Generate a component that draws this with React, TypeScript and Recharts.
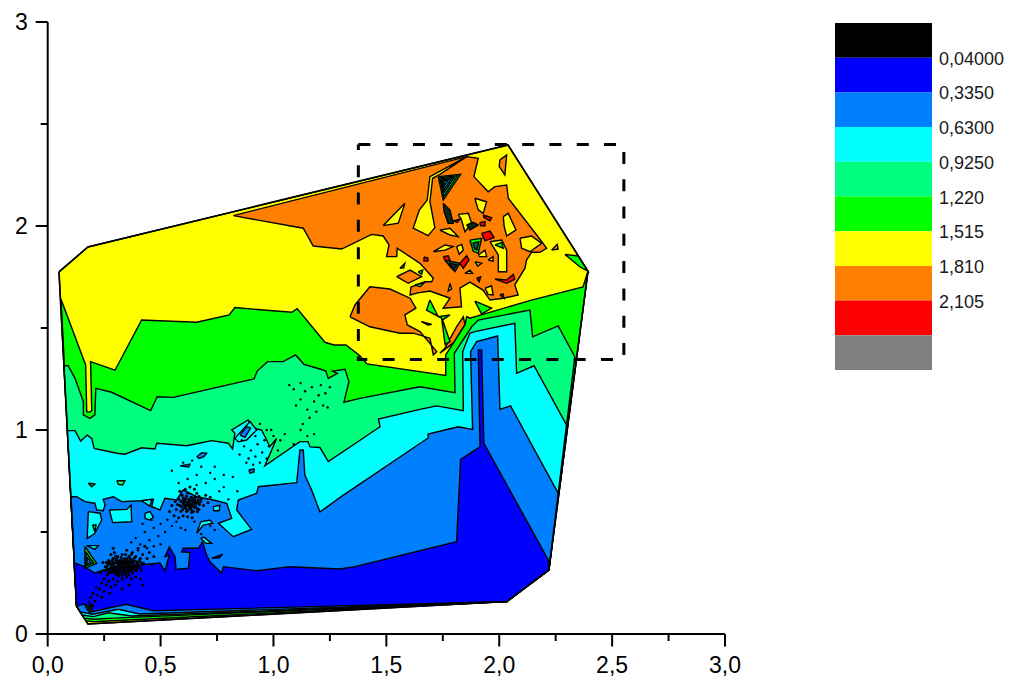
import React from "react";
import { ScatterChart, Scatter, XAxis, YAxis, BarChart, Bar, Cell } from "recharts";

type P = [number, number];

const xTicks = [0, 0.25, 0.5, 0.75, 1, 1.25, 1.5, 1.75, 2, 2.25, 2.5, 2.75, 3];
const yTicks = [0, 0.5, 1, 1.5, 2, 2.5, 3];
const legendLabels = ["0,04000", "0,3350", "0,6300", "0,9250", "1,220", "1,515", "1,810", "2,105"];
const legendTicks = [1, 2, 3, 4, 5, 6, 7, 8];
const legendKeys = ["s0", "s1", "s2", "s3", "s4", "s5", "s6", "s7", "s8", "s9"];

const BLACK = "#000000", DARK = "#0000ff", MID = "#007fff", CYAN = "#00ffff", SPRING = "#00ff7f";
const GREEN = "#00ff00", YELLOW = "#ffff00", ORANGE = "#ff7f00", RED = "#ff0000", GREY = "#808080";
const legendColors = [BLACK, DARK, MID, CYAN, SPRING, GREEN, YELLOW, ORANGE, RED, GREY];

const hull: P[] = [[.05,1.775],[.178,1.897],[2.039,2.397],[2.393,1.779],[2.22,.314],[2.034,.159],[.178,.049],[.128,.137]];

const orangeMain: P[] = [[.822,2.051],[1.856,2.34],[1.907,2.332],[1.888,2.242],[1.951,2.168],[1.981,2.193],[2.033,2.201],[2.04,2.136],[2.166,1.956],[2.21,1.891],[2.18,1.871],[2.143,1.871],[2.121,1.833],[2.114,1.793],[2.069,1.711],[2.084,1.662],[2.018,1.646],[1.959,1.637],[1.928,1.686],[1.87,1.725],[1.826,1.695],[1.833,1.604],[1.752,1.597],[1.782,1.646],[1.693,1.681],[1.64,1.672],[1.605,1.662],[1.609,1.701],[1.671,1.727],[1.701,1.727],[1.708,1.744],[1.649,1.817],[1.548,1.891],[1.546,1.85],[1.501,1.85],[1.512,1.907],[1.486,1.951],[1.435,1.959],[1.302,1.887],[1.176,1.902],[1.132,1.989]];
const orangeLower: P[] = [[1.339,1.555],[1.361,1.613],[1.427,1.702],[1.516,1.691],[1.605,1.646],[1.631,1.597],[1.582,1.564],[1.593,1.515],[1.649,1.482],[1.723,1.384],[1.708,1.368],[1.693,1.45],[1.619,1.475],[1.56,1.474],[1.427,1.506]];
const orangeStrip: P[] = [[1.759,1.401],[1.811,1.506],[1.841,1.555],[1.848,1.515],[1.804,1.433],[1.737,1.376]];
const orangeTop: P[] = [[2.003,2.324],[2.033,2.348],[2.025,2.25],[2.0,2.291]];
const orangeRight: P[] = [[2.232,1.882],[2.257,1.91],[2.261,1.887]];
const orangeIsland: P[] = [[1.546,1.752],[1.605,1.784],[1.656,1.752],[1.597,1.719]];
const orangeThin: P[] = [[1.656,1.531],[1.701,1.518],[1.684,1.515]];

const yellowStrand: P[] = [[1.856,2.34],[1.693,2.242],[1.681,2.127],[1.646,2.078],[1.619,1.989],[1.685,1.953],[1.715,1.992],[1.693,2.119],[1.705,2.234],[1.737,2.253]];
const yellowA: P[] = [[1.486,2.002],[1.582,2.111],[1.553,2.014]];
const yellowB: P[] = [[1.892,2.136],[1.944,2.119],[1.929,2.062],[1.907,2.079]];
const yellowC: P[] = [[1.818,2.057],[1.863,2.062],[1.878,2.013],[1.848,1.972],[1.833,2.029]];
const yellowD: P[] = [[2.018,2.046],[2.04,2.062],[2.074,1.98],[2.033,1.951],[2.022,1.997]];
const yellowE: P[] = [[2.092,1.94],[2.143,1.951],[2.188,1.915],[2.136,1.874],[2.099,1.891]];
const yellowF: P[] = [[1.959,1.923],[2.011,1.931],[2.033,1.882],[2.033,1.776],[1.996,1.776],[1.996,1.858]];
const yellowG: P[] = [[1.737,1.98],[1.782,1.989],[1.818,1.948],[1.782,1.956]];
const yellowH: P[] = [[1.708,1.874],[1.76,1.907],[1.796,1.899],[1.76,1.882]];
const yellowI: P[] = [[1.811,1.899],[1.834,1.91],[1.841,1.882],[1.823,1.861]];
const yellowJ: P[] = [[1.892,1.825],[1.922,1.817],[1.905,1.804]];
const yellowK: P[] = [[1.951,1.833],[1.973,1.85],[1.973,1.828]];
const yellowL: P[] = [[1.848,1.768],[1.87,1.784],[1.882,1.768]];
const yellowM: P[] = [[1.782,1.719],[1.789,1.691],[1.774,1.681]];
const yellowN: P[] = [[1.907,1.858],[1.937,1.882],[1.944,1.85],[1.914,1.85]];
const yellowO: P[] = [[1.937,1.695],[1.966,1.707],[1.973,1.662],[1.951,1.665]];

const redA: P[] = [[1.929,2.054],[1.966,2.041],[1.959,2.026],[1.932,2.041]];
const redB: P[] = [[1.922,1.964],[1.959,1.975],[1.977,1.943],[1.937,1.928]];
const redC: P[] = [[1.752,1.85],[1.774,1.854],[1.782,1.833],[1.764,1.825]];
const redD: P[] = [[1.826,1.817],[1.856,1.854],[1.866,1.833],[1.841,1.793]];
const redE: P[] = [[1.981,1.74],[2.033,1.735],[2.062,1.763],[2.069,1.74],[2.033,1.719]];
const redF: P[] = [[1.9,1.744],[1.918,1.751],[1.911,1.727]];
const redG: P[] = [[1.667,1.848],[1.684,1.843],[1.684,1.828],[1.667,1.828]];
const redH: P[] = [[1.796,2.025],[1.826,2.034],[1.814,2.018]];
const redI: P[] = [[1.914,2.018],[1.937,2.021],[1.937,2.001],[1.918,2.001]];
const redJ: P[] = [[2.003,1.662],[2.017,1.667],[2.021,1.646]];

const greenA: P[] = [[1.693,1.637],[1.73,1.555],[1.782,1.564],[1.749,1.539],[1.782,1.433],[1.76,1.42],[1.745,1.548],[1.678,1.588]];
const greenB: P[] = [[1.892,1.632],[1.966,1.597],[1.922,1.568]];
const greenC: P[] = [[1.56,1.793],[1.582,1.817],[1.577,1.795]];
const greenD: P[] = [[1.641,1.776],[1.661,1.784],[1.656,1.763]];
const greenE: P[] = [[1.627,1.711],[1.671,1.724],[1.649,1.702]];
const greenF: P[] = [[1.981,1.907],[2.011,1.92],[2.018,1.891]];
const greenCorner: P[] = [[2.291,1.861],[2.349,1.853],[2.393,1.779],[2.358,1.799]];

const fanTop1: P[] = [[1.73,2.242],[1.829,2.253],[1.752,2.127]];
const fanTop2: P[] = [[1.736,2.237],[1.815,2.246],[1.754,2.145]];
const fanTop3: P[] = [[1.742,2.232],[1.801,2.239],[1.755,2.163]];
const fanTop4: P[] = [[1.748,2.227],[1.788,2.231],[1.757,2.181]];
const fanTop5: P[] = [[1.754,2.222],[1.774,2.224],[1.758,2.199]];
const darkDiamond: P[] = [[1.752,2.111],[1.782,2.078],[1.796,2.013],[1.774,2.013],[1.756,2.07]];
const darkWedge: P[] = [[1.856,2.005],[1.885,2.018],[1.907,2.005],[1.87,1.98]];
const fanMid1: P[] = [[1.87,1.931],[1.922,1.94],[1.907,1.866],[1.885,1.876]];
const fanMid2: P[] = [[1.883,1.917],[1.91,1.922],[1.901,1.882],[1.892,1.887]];
const fanLow1: P[] = [[1.76,1.833],[1.826,1.817],[1.804,1.776],[1.782,1.801]];
const fanLow2: P[] = [[1.777,1.819],[1.813,1.809],[1.799,1.789]];

const bandGreen: P[] = [[.059,1.641],[.168,1.319],[.173,1.09],[.184,1.087],[.195,1.095],[.19,1.335],[.298,1.293],[.416,1.539],[.66,1.528],[.804,1.564],[.829,1.6],[1.081,1.577],[1.105,1.595],[1.228,1.43],[1.268,1.417],[1.321,1.417],[1.383,1.364],[1.414,1.324],[1.763,1.267],[1.763,1.368],[1.848,1.515],[1.856,1.556],[1.87,1.548],[2.143,1.637],[2.371,1.701],[2.393,1.779],[2.22,.314],[2.034,.159],[.202,.06],[.17,.064],[.128,.137]];
const bandSpring: P[] = [[.072,1.315],[.091,1.315],[.121,1.253],[.158,1.139],[.158,1.074],[.187,1.057],[.209,1.074],[.213,1.204],[.283,1.185],[.456,1.095],[.485,1.163],[.556,1.16],[.914,1.25],[.928,1.289],[.974,1.335],[1.043,1.335],[1.098,1.368],[1.135,1.322],[1.206,1.299],[1.232,1.289],[1.243,1.253],[1.283,1.278],[1.262,1.289],[1.317,1.298],[1.334,1.237],[1.312,1.136],[1.383,1.155],[1.649,1.212],[1.804,1.183],[1.801,1.376],[1.878,1.506],[1.907,1.539],[2.136,1.588],[2.148,1.457],[2.261,1.51],[2.335,1.359],[2.22,.314],[2.034,.159],[.291,.078],[.202,.072],[.161,.078],[.128,.137]];
const bandCyan: P[] = [[.087,.997],[.121,.997],[.146,.946],[.175,.975],[.195,.959],[.206,.91],[.306,.886],[.342,.881],[.416,.913],[.475,.907],[.483,.935],[.616,.923],[.726,.948],[.8,.935],[.819,.907],[.829,.984],[.815,1.0],[.888,1.049],[.91,1.008],[.948,1.0],[.984,.918],[1.014,.959],[.962,.824],[1.117,.943],[1.153,.943],[1.162,.917],[1.206,.914],[1.243,.845],[1.472,1.016],[1.465,1.054],[1.649,1.101],[1.723,1.118],[1.841,1.095],[1.838,1.384],[1.87,1.474],[1.892,1.482],[2.069,1.523],[2.077,1.278],[2.154,1.315],[2.298,1.025],[2.22,.314],[2.034,.159],[.372,.088],[.268,.104],[.202,.085],[.152,.093],[.128,.137]];
const bandMid: P[] = [[.103,.673],[.128,.673],[.165,.649],[.209,.641],[.217,.608],[.246,.604],[.254,.632],[.246,.66],[.291,.673],[.328,.649],[.416,.653],[.468,.66],[.461,.624],[.497,.608],[.519,.665],[.571,.657],[.6,.706],[.66,.673],[.733,.657],[.793,.641],[.815,.567],[.756,.543],[.822,.477],[.903,.513],[.837,.608],[.844,.657],[.926,.69],[.933,.722],[1.103,.742],[1.117,.902],[1.132,.902],[1.139,.779],[1.169,.706],[1.206,.598],[1.295,.67],[1.685,.961],[1.685,.98],[1.818,1.016],[1.882,1.003],[1.873,1.384],[1.9,1.433],[1.993,1.461],[2.003,1.101],[2.05,1.118],[2.261,.69],[2.22,.314],[2.034,.159],[.406,.098],[.313,.121],[.199,.097],[.143,.108],[.128,.137]];
const bandDark: P[] = [[.116,.35],[.158,.333],[.209,.299],[.276,.324],[.497,.348],[.519,.31],[.539,.387],[.519,.379],[.539,.426],[.564,.379],[.568,.317],[.623,.322],[.63,.399],[.593,.403],[.6,.42],[.667,.42],[.686,.452],[.704,.387],[.719,.354],[.771,.298],[.778,.33],[.926,.31],[1.073,.33],[1.295,.319],[1.361,.33],[1.811,.452],[1.829,.856],[1.915,.918],[1.907,1.392],[1.922,1.392],[1.932,.935],[2.217,.363],[2.22,.314],[2.034,.159],[.468,.114],[.347,.146],[.195,.109],[.161,.147],[.128,.137]];

const cyanA: P[] = [[.18,.6],[.232,.592],[.239,.559],[.209,.494],[.175,.469]];
const cyanB: P[] = [[.273,.608],[.35,.611],[.369,.632],[.372,.55],[.288,.546]];
const cyanC: P[] = [[.431,.592],[.453,.6],[.468,.572],[.45,.559],[.431,.567]];
const cyanD: P[] = [[.416,.653],[.461,.66],[.453,.627]];
const cyanE: P[] = [[.66,.494],[.678,.55],[.719,.559],[.731,.543],[.689,.534]];
const cyanF: P[] = [[.678,.469],[.692,.475],[.726,.444],[.701,.444]];
const cyanG: P[] = [[.733,.624],[.763,.632],[.76,.604],[.736,.604]];
const cyanH: P[] = [[.173,.433],[.224,.433],[.209,.415]];
const cyanI: P[] = [[.829,.959],[.896,1.041],[.926,1.0],[.881,.951],[.844,.942]];
const springA: P[] = [[.199,.534],[.214,.534],[.209,.5]];
const springB: P[] = [[.306,.751],[.342,.751],[.332,.73],[.313,.734]];
const springC: P[] = [[.18,.739],[.209,.735],[.195,.722]];
const midA: P[] = [[.66,.869],[.682,.889],[.704,.886],[.692,.869],[.671,.861]];
const midB: P[] = [[.891,.804],[.914,.809],[.914,.794],[.896,.789]];
const midC: P[] = [[.586,.824],[.63,.833],[.625,.819]];
const midD: P[] = [[.852,.975],[.881,1.017],[.899,1.009],[.874,.964]];
const darkSliver: P[] = [[.726,.371],[.775,.391],[.76,.373]];
const fanLeft1: P[] = [[.165,.429],[.217,.346],[.165,.322]];
const fanLeft2: P[] = [[.169,.403],[.204,.348],[.169,.333]];
const fanLeft3: P[] = [[.174,.378],[.191,.351],[.174,.343]];
const fanFoot1: P[] = [[.165,.137],[.201,.142],[.187,.103]];
const fanFoot2: P[] = [[.174,.132],[.192,.135],[.185,.118]];

const dotsCoreA: P[] = [[.26,.33],[.27,.36],[.275,.31],[.28,.345],[.285,.3],[.29,.37],[.295,.33],[.3,.35],[.3,.31],[.305,.29],[.31,.38],[.31,.34],[.315,.32],[.32,.36],[.32,.3],[.325,.345],[.33,.39],[.33,.33],[.335,.31],[.34,.37],[.34,.35],[.345,.29],[.35,.33],[.35,.41],[.355,.36],[.36,.31],[.36,.38],[.365,.345],[.37,.325],[.375,.4],[.375,.3],[.38,.36],[.385,.34],[.39,.38],[.395,.32],[.4,.42],[.4,.35],[.41,.37],[.415,.31],[.42,.39],[.425,.345],[.43,.43],[.44,.37],[.45,.4],[.46,.34],[.47,.38],[.295,.4],[.28,.39],[.265,.29],[.25,.31],[.245,.35],[.235,.3],[.25,.27],[.27,.26],[.29,.27],[.31,.26],[.33,.27],[.35,.28],[.37,.27],[.39,.28],[.41,.27],[.3,.24],[.33,.22],[.36,.24],[.28,.23],[.26,.24],[.24,.25],[.23,.22],[.25,.21],[.22,.19],[.24,.18],[.2,.2],[.21,.16],[.195,.14],[.19,.18],[.185,.155],[.215,.23],[.275,.2],[.42,.24],[.29,.42],[.315,.35],[.325,.315],[.345,.325],[.31,.31],[.3,.33],[.29,.35],[.35,.35],[.36,.335],[.335,.355],[.32,.34],[.28,.325],[.27,.345],[.37,.35],[.385,.315],[.34,.305],[.305,.37],[.325,.375],[.355,.3],[.29,.31],[.27,.3]];
const dotsDenseA: P[] = [[.262,.315],[.268,.338],[.274,.352],[.279,.318],[.283,.336],[.288,.322],[.291,.342],[.296,.306],[.298,.318],[.302,.362],[.306,.326],[.308,.348],[.312,.302],[.314,.358],[.318,.33],[.319,.312],[.322,.35],[.326,.33],[.328,.362],[.331,.298],[.333,.345],[.336,.322],[.338,.335],[.34,.315],[.343,.36],[.346,.342],[.348,.308],[.351,.37],[.353,.322],[.356,.345],[.358,.325],[.361,.355],[.363,.318],[.366,.37],[.368,.335],[.371,.312],[.373,.36],[.376,.33],[.379,.345],[.381,.32],[.384,.372],[.388,.33],[.391,.355],[.393,.31],[.397,.342],[.402,.33],[.406,.36],[.41,.325],[.414,.35],[.3,.298],[.315,.285],[.33,.285],[.36,.29],[.285,.36],[.3,.382],[.345,.39],[.37,.39],[.28,.3],[.26,.35],[.255,.33]];
const dotsCoreB: P[] = [[.54,.6],[.55,.63],[.56,.58],[.565,.65],[.57,.61],[.58,.66],[.585,.63],[.59,.6],[.595,.68],[.6,.64],[.605,.62],[.61,.66],[.615,.6],[.62,.69],[.62,.635],[.625,.65],[.63,.615],[.635,.67],[.64,.64],[.645,.6],[.65,.66],[.655,.625],[.66,.69],[.665,.645],[.67,.61],[.68,.66],[.69,.63],[.7,.68],[.71,.645],[.72,.67],[.6,.58],[.62,.575],[.64,.57],[.58,.57],[.61,.71],[.63,.72],[.65,.71],[.585,.7],[.6,.655],[.63,.655],[.625,.625],[.61,.63],[.65,.64],[.64,.655],[.59,.65],[.575,.635],[.67,.675],[.615,.645],[.635,.625],[.655,.65]];
const dotsDenseB: P[] = [[.592,.625],[.598,.61],[.603,.635],[.608,.648],[.612,.615],[.617,.632],[.62,.605],[.624,.66],[.628,.64],[.632,.632],[.636,.61],[.64,.668],[.643,.628],[.647,.645],[.651,.62],[.654,.67],[.658,.64],[.662,.615],[.667,.658],[.672,.635],[.677,.648],[.614,.675],[.6,.668],[.637,.595],[.663,.6]];
const dotsMiddle: P[] = [[.37,.45],[.39,.47],[.41,.44],[.43,.5],[.45,.46],[.47,.52],[.49,.48],[.5,.54],[.52,.5],[.44,.42],[.47,.43],[.5,.44],[.53,.56],[.55,.53],[.57,.55],[.59,.52],[.42,.54],[.46,.56],[.4,.41],[.61,.51],[.65,.55],[.68,.49],[.72,.53],[.74,.51],[.58,.74],[.62,.76],[.66,.78],[.7,.74],[.74,.76],[.78,.72],[.72,.79],[.76,.7],[.68,.82],[.64,.85],[.74,.82],[.6,.84],[.55,.8],[.78,.78],[.66,.73],[.82,.77],[.84,.7],[.8,.66]];
const dotsCoreC: P[] = [[.85,.88],[.87,.92],[.89,.86],[.9,.9],[.92,.87],[.93,.93],[.95,.89],[.96,.95],[.97,.86],[.98,.92],[1.0,.97],[.94,1.03],[.99,1.0],[.91,.83],[.88,.84],[.94,.84],[1.02,.9],[1.03,.95],[.86,.95],[.92,.97],[.97,1.0],[1.09,.93],[1.12,1.0],[1.15,.97],[1.18,.98],[1.05,.98]];
const dotsCoreD: P[] = [[1.07,1.22],[1.09,1.2],[1.12,1.15],[1.14,1.19],[1.15,1.1],[1.17,1.21],[1.18,1.14],[1.19,1.09],[1.2,1.17],[1.21,1.22],[1.22,1.12],[1.23,1.18],[1.24,1.11],[1.25,1.21],[1.16,1.06],[1.13,1.03],[1.1,1.12],[1.12,1.23]];

const guideBox: P[] = [[1.376,2.4],[2.552,2.4],[2.552,1.346],[1.376,1.346],[1.376,2.4]];

const polygons: { points: P[]; fill: string }[] = [
  { points: hull, fill: YELLOW },
  ...[orangeMain, orangeLower, orangeStrip, orangeTop, orangeRight, orangeIsland, orangeThin].map((points) => ({ points, fill: ORANGE })),
  ...[yellowStrand, yellowA, yellowB, yellowC, yellowD, yellowE, yellowF, yellowG, yellowH, yellowI, yellowJ, yellowK, yellowL, yellowM, yellowN, yellowO].map((points) => ({ points, fill: YELLOW })),
  ...[redA, redB, redC, redD, redE, redF, redG, redH, redI, redJ].map((points) => ({ points, fill: RED })),
  ...[greenA, greenB, greenC, greenD, greenE, greenF, greenCorner].map((points) => ({ points, fill: GREEN })),
  { points: fanTop1, fill: GREEN },
  { points: fanTop2, fill: SPRING },
  { points: fanTop3, fill: "#00a0a0" },
  { points: fanTop4, fill: CYAN },
  { points: fanTop5, fill: MID },
  { points: darkDiamond, fill: "#0b2a1e" },
  { points: darkWedge, fill: "#0b2a1e" },
  { points: fanMid1, fill: GREEN },
  { points: fanMid2, fill: "#0b5a4e" },
  { points: fanLow1, fill: "#0f7a50" },
  { points: fanLow2, fill: "#0b3a3e" },
  { points: bandGreen, fill: GREEN },
  { points: bandSpring, fill: SPRING },
  { points: bandCyan, fill: CYAN },
  { points: bandMid, fill: MID },
  { points: bandDark, fill: DARK },
  ...[cyanA, cyanB, cyanC, cyanD, cyanE, cyanF, cyanG, cyanH, cyanI].map((points) => ({ points, fill: CYAN })),
  ...[springA, springB, springC].map((points) => ({ points, fill: SPRING })),
  ...[midA, midB, midC, midD].map((points) => ({ points, fill: MID })),
  { points: darkSliver, fill: DARK },
  { points: fanLeft1, fill: GREEN },
  { points: fanLeft2, fill: "#0f9a70" },
  { points: fanLeft3, fill: MID },
  { points: fanFoot1, fill: SPRING },
  { points: fanFoot2, fill: "#0b5a4e" },
];

const toRows = (pts: P[]) => [...pts, pts[0]].map(([x, y]) => ({ x, y }));
const sparseDots = [...dotsMiddle, ...dotsCoreC, ...dotsCoreD].map(([x, y]) => ({ x, y }));
const coreDots = [...dotsCoreA, ...dotsDenseA, ...dotsCoreB, ...dotsDenseB].map(([x, y]) => ({ x, y }));
const legendRow = [Object.fromEntries(legendKeys.map((k) => [k, 1]))];

const FONT = "'Liberation Sans', Arial, sans-serif";
const noMark = () => <g />;

const XTick = (props: any) => {
  const { x, y, payload } = props;
  const v = payload.value as number;
  const major = Number.isInteger(v * 2);
  return (
    <g>
      <line x1={x} x2={x} y1={y} y2={y + (major ? 12.5 : 7)} stroke="#000" strokeWidth={2} />
      {major && (
        <text x={x} y={y + 39} textAnchor="middle" fontSize={23} fontFamily={FONT} fill="#000">
          {v.toFixed(1).replace(".", ",")}
        </text>
      )}
    </g>
  );
};

const YTick = (props: any) => {
  const { x, y, payload } = props;
  const v = payload.value as number;
  const major = Number.isInteger(v);
  return (
    <g>
      <line x1={x} x2={x - (major ? 12 : 7)} y1={y} y2={y} stroke="#000" strokeWidth={2} />
      {major && (
        <text x={x - 20} y={y + 8} textAnchor="end" fontSize={23} fontFamily={FONT} fill="#000">
          {v}
        </text>
      )}
    </g>
  );
};

const LegendTick = (props: any) => {
  const { x, y, payload } = props;
  return (
    <text x={x + 7} y={y + 7} fontSize={18} fontFamily={FONT} fill="#1a1a1a">
      {legendLabels[(payload.value as number) - 1]}
    </text>
  );
};

export default function App() {
  return (
    <div style={{ position: "absolute", left: 0, top: 0, width: 1018, height: 684, background: "#fff" }}>
      <div style={{ position: "absolute", left: 0, top: 0 }}>
        <ScatterChart width={1018} height={684} margin={{ top: 22, right: 293, bottom: 0, left: 0 }}>
          <XAxis
            type="number"
            dataKey="x"
            domain={[0, 3]}
            ticks={xTicks}
            interval={0}
            height={50}
            tickSize={0}
            tickMargin={0}
            tickLine={false}
            axisLine={{ stroke: "#000", strokeWidth: 2 }}
            tick={XTick}
          />
          <YAxis
            type="number"
            dataKey="y"
            domain={[0, 3]}
            ticks={yTicks}
            interval={0}
            width={47.7}
            tickSize={0}
            tickMargin={0}
            tickLine={false}
            axisLine={{ stroke: "#000", strokeWidth: 2 }}
            tick={YTick}
          />
          {polygons.map((p, i) => (
            <Scatter
              key={i}
              data={toRows(p.points)}
              isAnimationActive={false}
              shape={noMark}
              line={{ fill: p.fill, stroke: "#000", strokeWidth: 1.4, strokeLinejoin: "miter" }}
            />
          ))}
          <Scatter
            data={sparseDots}
            isAnimationActive={false}
            shape={(d: any) => <circle cx={d.cx} cy={d.cy} r={1.2} fill="#000" />}
          />
          <Scatter
            data={coreDots}
            isAnimationActive={false}
            shape={(d: any) => <circle cx={d.cx} cy={d.cy} r={1.5} fill="#000" />}
          />
          <Scatter
            data={toRows(hull)}
            isAnimationActive={false}
            shape={noMark}
            line={{ fill: "none", stroke: "#000", strokeWidth: 1.6 }}
          />
          <Scatter
            data={guideBox.map(([x, y]) => ({ x, y }))}
            isAnimationActive={false}
            shape={noMark}
            line={{ fill: "none", stroke: "#000", strokeWidth: 3, strokeDasharray: "12 15.3" }}
          />
        </ScatterChart>
      </div>
      <div style={{ position: "absolute", left: 835, top: 23 }}>
        <BarChart
          width={183}
          height={347}
          data={legendRow}
          barCategoryGap={0}
          margin={{ top: 0, right: 0, bottom: 0, left: 0 }}
        >
          <XAxis hide type="category" />
          <YAxis
            type="number"
            orientation="right"
            reversed
            domain={[0, 10]}
            ticks={legendTicks}
            interval={0}
            width={86}
            tickSize={0}
            tickMargin={0}
            tickLine={false}
            axisLine={false}
            tick={LegendTick}
          />
          {legendKeys.map((k, i) => (
            <Bar key={k} dataKey={k} stackId="levels" isAnimationActive={false} fill={legendColors[i]}>
              <Cell fill={legendColors[i]} />
            </Bar>
          ))}
        </BarChart>
      </div>
    </div>
  );
}
